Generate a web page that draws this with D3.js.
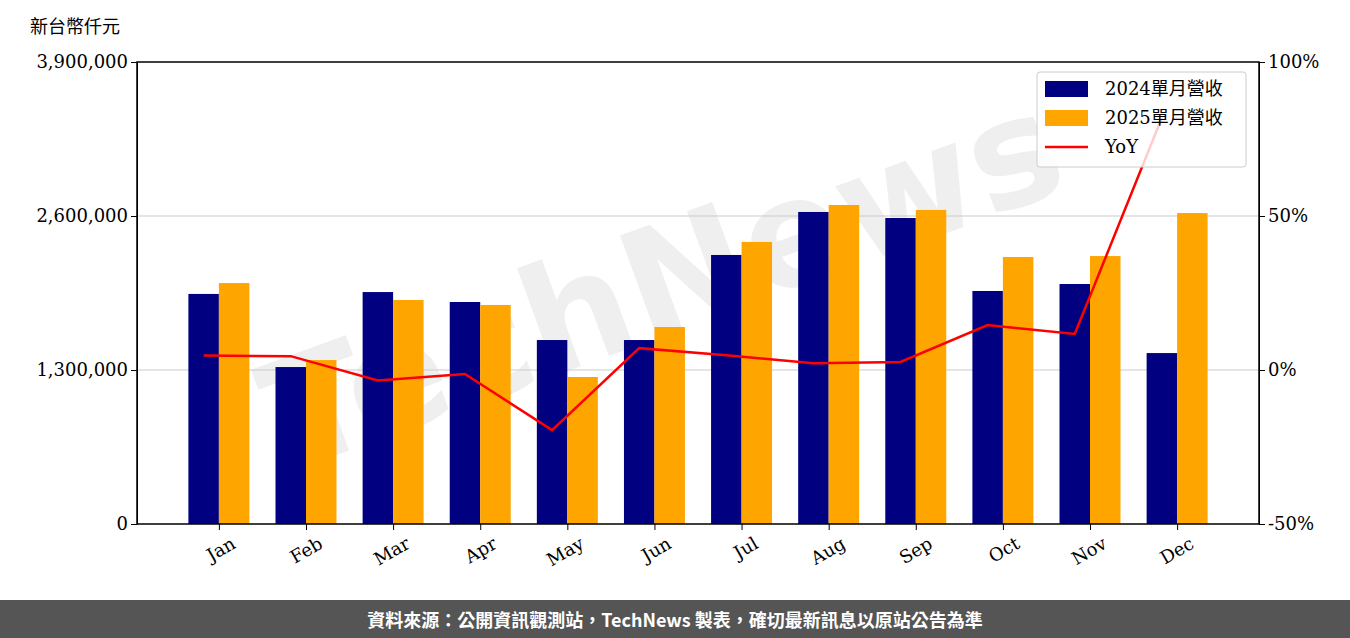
<!DOCTYPE html><html><head><meta charset="utf-8">
<script src="https://cdn.jsdelivr.net/npm/d3@7"></script>
<style>body{margin:0;background:#fff}</style></head><body>
<svg id="c" width="1350" height="638"></svg>
<script>
const months=["Jan","Feb","Mar","Apr","May","Jun","Jul","Aug","Sep","Oct","Nov","Dec"];
const rev2024=[1942000,1325000,1958000,1874000,1553000,1553000,2271000,2634000,2583000,1967000,2026000,1443000];
const rev2025=[2034000,1384000,1891000,1849000,1241000,1663000,2381000,2693000,2651000,2254000,2262000,2625000];
const yoy=[4.7,4.5,-3.4,-1.3,-19.5,7.1,4.8,2.2,2.6,14.6,11.7,81.9];
const leftTicks=[0,1300000,2600000,3900000];
const rightTicks=[-50,0,50,100];
const svg=d3.select("#c");
const L=137,R=1259,T=62,B=524;
const x=d3.scaleLinear().domain([-0.94,11.94]).range([L,R]);
const y=d3.scaleLinear().domain([0,3900000]).range([B,T]);
const y2=d3.scaleLinear().domain([-50,100]).range([B,T]);
const serif="'DejaVu Serif',serif";
// watermark
svg.append("text").attr("x",680).attr("y",330).attr("text-anchor","middle")
 .attr("transform","rotate(-20,680,330)").attr("font-family","'DejaVu Sans',sans-serif")
 .attr("font-size",150).attr("font-weight","bold").attr("fill","#e6e6e6").attr("opacity",0.6).text("TechNews");
// grid
svg.selectAll(".g").data([1300000,2600000]).enter().append("line")
 .attr("x1",L).attr("x2",R).attr("y1",d=>y(d)).attr("y2",d=>y(d)).attr("stroke","#cccccc").attr("stroke-width",1.2);
const w=0.35;
svg.selectAll(".b1").data(rev2024).enter().append("rect").attr("x",(d,i)=>x(i-w)).attr("width",x(w)-x(0))
 .attr("y",d=>y(d)).attr("height",d=>B-y(d)).attr("fill","#000080");
svg.selectAll(".b2").data(rev2025).enter().append("rect").attr("x",(d,i)=>x(i)).attr("width",x(w)-x(0))
 .attr("y",d=>y(d)).attr("height",d=>B-y(d)).attr("fill","#FFA500");
svg.append("path").datum(yoy).attr("fill","none").attr("stroke","red").attr("stroke-width",2.5)
 .attr("d",d3.line().x((d,i)=>x(i-w/2)).y(d=>y2(d)));
// axes
const ga=svg.append("g").attr("transform",`translate(${L},0)`).call(d3.axisLeft(y).tickValues(leftTicks).tickFormat(d3.format(",")).tickSizeOuter(0));
const gr=svg.append("g").attr("transform",`translate(${R},0)`).call(d3.axisRight(y2).tickValues(rightTicks).tickFormat(d=>d+"%").tickSizeOuter(0));
const gb=svg.append("g").attr("transform",`translate(0,${B})`).call(d3.axisBottom(x).tickValues(d3.range(12)).tickFormat(i=>months[i]).tickSizeOuter(0));
[ga,gr,gb].forEach(g=>{g.selectAll("text").attr("font-family",serif).attr("font-size",18).attr("fill","#000");g.selectAll("line,path").attr("stroke","#000");});
gb.selectAll("text").attr("transform","rotate(-30)").attr("text-anchor","end").attr("dx","0.2em").attr("dy","1.1em");
gb.select(".domain").remove();
svg.append("rect").attr("x",L).attr("y",T).attr("width",R-L).attr("height",B-T).attr("fill","none").attr("stroke","#000").attr("stroke-width",1.5);
svg.append("text").attr("x",30).attr("y",33).attr("font-family","'Noto Sans CJK TC',sans-serif").attr("font-size",18).text("新台幣仟元");
// legend
const lg=svg.append("g");
lg.append("rect").attr("x",1037).attr("y",72).attr("width",209).attr("height",95).attr("rx",3).attr("fill","#fff").attr("fill-opacity",0.8).attr("stroke","#ccc");
const items=[["2024單月營收","#000080","r"],["2025單月營收","#FFA500","r"],["YoY","red","l"]];
items.forEach((it,i)=>{const yy=89+i*29;
 if(it[2]=="r")lg.append("rect").attr("x",1045).attr("y",yy-8).attr("width",43).attr("height",16).attr("fill",it[1]);
 else lg.append("line").attr("x1",1045).attr("x2",1088).attr("y1",yy).attr("y2",yy).attr("stroke",it[1]).attr("stroke-width",2.5);
 lg.append("text").attr("x",1105).attr("y",yy+6).attr("font-family","'DejaVu Serif','Noto Sans CJK TC',serif").attr("font-size",18).text(it[0]);});
// footer
svg.append("rect").attr("x",0).attr("y",600).attr("width",1350).attr("height",38).attr("fill","#555");
svg.append("text").attr("x",675).attr("y",627).attr("text-anchor","middle").attr("fill","#fff").attr("font-family","'Noto Sans CJK TC',sans-serif").attr("font-size",18).attr("font-weight","bold")
 .text("資料來源：公開資訊觀測站，TechNews 製表，確切最新訊息以原站公告為準");
</script></body></html>
